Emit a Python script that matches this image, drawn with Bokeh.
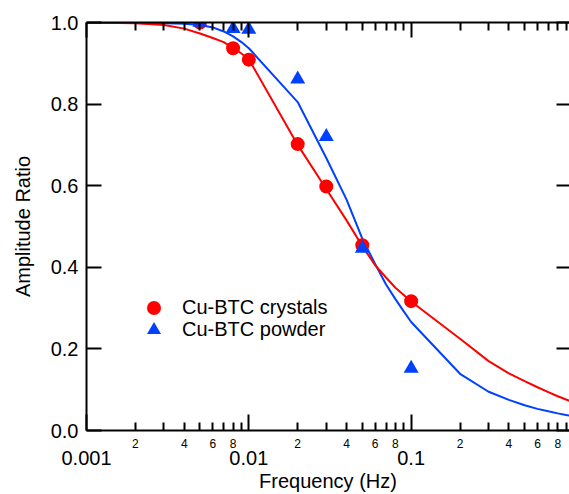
from bokeh.plotting import figure
from bokeh.models import (LogAxis, LinearAxis, FixedTicker, CustomJSTickFormatter,
                          Range1d, Legend, LegendItem)
from bokeh.embed import file_html
from bokeh.resources import INLINE

# ---- data ----
freq_pts = [0.005, 0.008, 0.01, 0.02, 0.03, 0.05, 0.1]
crystals_pts = [1.0, 0.937, 0.909, 0.702, 0.598, 0.454, 0.317]
powder_pts = [1.0, 0.985, 0.983, 0.861, 0.720, 0.446, 0.152]

fit_freq = [0.001, 0.002, 0.003, 0.004, 0.005, 0.006, 0.007, 0.008, 0.009,
            0.01, 0.02, 0.03, 0.04, 0.05, 0.06, 0.07, 0.08, 0.09,
            0.1, 0.2, 0.3, 0.4, 0.5, 0.6, 0.7, 0.8, 0.9, 1.0]
crystals_fit = [1.0, 0.998, 0.994, 0.985, 0.973, 0.962, 0.952, 0.938, 0.924,
                0.910, 0.700, 0.592, 0.515, 0.452, 0.405, 0.375, 0.350, 0.332,
                0.316, 0.225, 0.170, 0.140, 0.121, 0.106, 0.094, 0.084, 0.076, 0.069]
powder_fit = [1.0, 0.999, 0.998, 0.997, 0.994, 0.988, 0.978, 0.966, 0.952,
              0.937, 0.805, 0.668, 0.566, 0.470, 0.408, 0.358, 0.322, 0.292,
              0.266, 0.139, 0.095, 0.075, 0.062, 0.053, 0.047, 0.042, 0.038, 0.035]

y_ticks = [0.0, 0.2, 0.4, 0.6, 0.8, 1.0]
decade_ticks = [0.001, 0.01, 0.1, 1.0]
minor_mults = [2, 3, 4, 5, 6, 7, 8, 9]
labeled_mults = [2, 4, 6, 8]
series_labels = ["Cu-BTC crystals", "Cu-BTC powder"]

minor_ticks = [d * m for d in decade_ticks[:-1] for m in minor_mults]

RED = "#FF0000"
BLUE = "#0040FF"
FONT = "Liberation Sans"

p = figure(width=569, height=494, x_axis_type="log",
           x_range=Range1d(0.001, 0.945), y_range=Range1d(0.0, 1.0),
           x_axis_location=None, y_axis_location=None,
           output_backend="svg", toolbar_location=None,
           min_border_left=86, min_border_top=22, min_border_right=0,
           min_border_bottom=62)
p.outline_line_color = None
for g in p.grid:
    g.visible = False
p.background_fill_color = "white"
p.border_fill_color = "white"

blank = CustomJSTickFormatter(code="return ''")

# left axis
left = LinearAxis(ticker=FixedTicker(ticks=y_ticks),
                  major_tick_in=15, major_tick_out=0,
                  minor_tick_in=0, minor_tick_out=0,
                  axis_line_width=2, major_tick_line_width=2,
                  major_label_overrides={v: f"{v:.1f}" for v in y_ticks},
                  major_label_text_font=FONT, major_label_text_font_size="20px",
                  major_label_text_color="black", major_label_standoff=8,
                  axis_label="Amplitude Ratio", axis_label_text_font=FONT,
                  axis_label_text_font_size="20px", axis_label_text_font_style="normal",
                  axis_label_text_color="black", axis_label_standoff=14)
p.add_layout(left, "left")

# right axis (ticks only)
right = LinearAxis(ticker=FixedTicker(ticks=y_ticks),
                   major_tick_in=13, major_tick_out=0,
                   minor_tick_in=0, minor_tick_out=0,
                   axis_line_color=None, major_tick_line_width=2,
                   formatter=blank, major_label_text_font_size="1px",
                   major_label_standoff=0)
p.add_layout(right, "right")

# top axis (ticks only)
top = LogAxis(ticker=FixedTicker(ticks=decade_ticks, minor_ticks=minor_ticks),
              major_tick_in=15, major_tick_out=0,
              minor_tick_in=8, minor_tick_out=0,
              axis_line_width=2, major_tick_line_width=2, minor_tick_line_width=2,
              formatter=blank, major_label_text_font_size="1px",
              major_label_standoff=0)
p.add_layout(top, "above")

# bottom axis A: minor ticks with 2,4,6,8 labels
fmt_minor = CustomJSTickFormatter(args=dict(labeled=labeled_mults), code="""
const e = Math.floor(Math.log10(tick) + 1e-9);
const m = Math.round(tick / Math.pow(10, e));
return labeled.includes(m) ? String(m) : "";
""")
bottomA = LogAxis(ticker=FixedTicker(ticks=minor_ticks, minor_ticks=decade_ticks),
                  major_tick_in=8, major_tick_out=0,
                  minor_tick_in=16, minor_tick_out=0,
                  axis_line_width=2, major_tick_line_width=2, minor_tick_line_width=2,
                  formatter=fmt_minor,
                  major_label_text_font=FONT, major_label_text_font_size="12px",
                  major_label_text_color="black", major_label_standoff=8)
p.add_layout(bottomA, "below")

# bottom axis B: decade labels + title
fmt_dec = CustomJSTickFormatter(code="return String(tick)")
bottomB = LogAxis(ticker=FixedTicker(ticks=decade_ticks),
                  major_tick_in=0, major_tick_out=0,
                  minor_tick_in=0, minor_tick_out=0,
                  axis_line_color=None, formatter=fmt_dec,
                  major_label_text_font=FONT, major_label_text_font_size="20px",
                  major_label_text_color="black", major_label_standoff=0,
                  axis_label="Frequency (Hz)", axis_label_text_font=FONT,
                  axis_label_text_font_size="20px", axis_label_text_font_style="normal",
                  axis_label_text_color="black", axis_label_standoff=2)
p.add_layout(bottomB, "below")

# fitted curves
p.line(fit_freq, powder_fit, line_color=BLUE, line_width=2)
p.line(fit_freq, crystals_fit, line_color=RED, line_width=2)

# data points
circ = p.scatter(freq_pts, crystals_pts, marker="circle", size=14,
                 fill_color=RED, line_color=None)
tri = p.scatter(freq_pts, powder_pts, marker="triangle", size=15,
                fill_color=BLUE, line_color=None)

legend_style = dict(border_line_color=None, background_fill_alpha=0,
                    label_text_font=FONT, label_text_font_size="20px",
                    label_text_color="black", glyph_width=35, glyph_height=35,
                    label_height=35, label_standoff=11, spacing=0,
                    padding=0, margin=0)
legend1 = Legend(items=[LegendItem(label=series_labels[0], renderers=[circ])],
                 location=(50, 105), **legend_style)
legend2 = Legend(items=[LegendItem(label=series_labels[1], renderers=[tri])],
                 location=(50, 83), **legend_style)
p.add_layout(legend1, "center")
p.add_layout(legend2, "center")

open("out.html", "w").write(file_html(p, INLINE))
